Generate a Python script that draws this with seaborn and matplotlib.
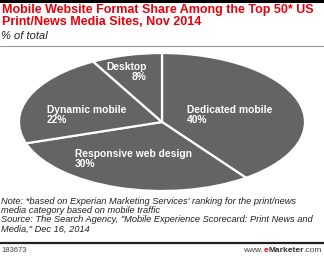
import matplotlib
matplotlib.use("Agg")
import matplotlib.pyplot as plt
import seaborn as sns
from matplotlib.lines import Line2D

sns.set_theme(style="white")
plt.rcParams['font.family'] = ['Liberation Sans', 'DejaVu Sans']

categories = ["Dedicated mobile", "Responsive web design", "Dynamic mobile", "Desktop"]
values = [40, 30, 22, 8]
labels = [f"{c}\n{v}%" for c, v in zip(categories, values)]

fig = plt.figure(figsize=(3.24, 2.56), dpi=100)
W, H = 324, 256

def fy(py):
    return 1 - py / H

# header lines
fig.add_artist(Line2D([0, 1], [fy(1), fy(1)], color="black", lw=2.2))
fig.text(2 / W, fy(4), "Mobile Website Format Share Among the Top 50* US\nPrint/News Media Sites, Nov 2014",
         color="#e8000b", fontsize=9.0, fontweight="bold", va="top", ha="left", linespacing=1.0)
fig.text(1 / W, fy(31), "% of total", fontsize=8, style="italic", va="top", ha="left", color="#222222")
fig.add_artist(Line2D([0, 1], [fy(46), fy(46)], color="#999999", lw=0.8))

# pie (elliptical)
cx, cy, rx, ry = 162, 122, 143, 69
ax = fig.add_axes([(cx - rx) / W, fy(cy + ry), 2 * rx / W, 2 * ry / H])
wedges, _ = ax.pie(values, startangle=90, counterclock=False, colors=["#646464"] * 4,
                   wedgeprops=dict(edgecolor="white", linewidth=1.6), radius=1)
ax.set_aspect("auto")
ax.set_xlim(-1, 1)
ax.set_ylim(-1, 1)
ax.axis("off")

def to_data(px, py):
    return (px - cx) / rx, (cy - py) / ry

label_pos = [((187, 115), "left"), ((75, 159), "left"), ((47, 115), "left"), ((147, 72), "right")]
for lab, ((px, py), ha) in zip(labels, label_pos):
    x, y = to_data(px, py)
    ax.text(x, y, lab, color="white", fontsize=7.4, fontweight="bold", ha=ha, va="center",
            multialignment=ha, linespacing=1.05)

# footnotes
fig.text(1 / W, fy(197), "Note: *based on Experian Marketing Services' ranking for the print/news\n"
         "media category based on mobile traffic\n"
         "Source: The Search Agency, \"Mobile Experience Scorecard: Print News and\n"
         "Media,\" Dec 16, 2014",
         fontsize=6.7, style="italic", va="top", ha="left", color="#222222", linespacing=1.02)
fig.add_artist(Line2D([0, 1], [fy(243), fy(243)], color="#222222", lw=1.6))
fig.text(1 / W, fy(250), "183673", fontsize=5.5, va="center", ha="left", color="#444444")

# eMarketer logo, right to left
renderer = fig.canvas.get_renderer()
parts = [(".com", "#444444", "normal"), ("Marketer", "#333333", "bold"),
         ("e", "#e8000b", "bold"), ("www.", "#444444", "normal")]
xr = 322
for s, col, fw in parts:
    t = fig.text(xr / W, fy(250), s, fontsize=6, va="center", ha="right", color=col, fontweight=fw)
    bb = t.get_window_extent(renderer=renderer)
    xr -= bb.width

fig.savefig("out.png", dpi=100)
